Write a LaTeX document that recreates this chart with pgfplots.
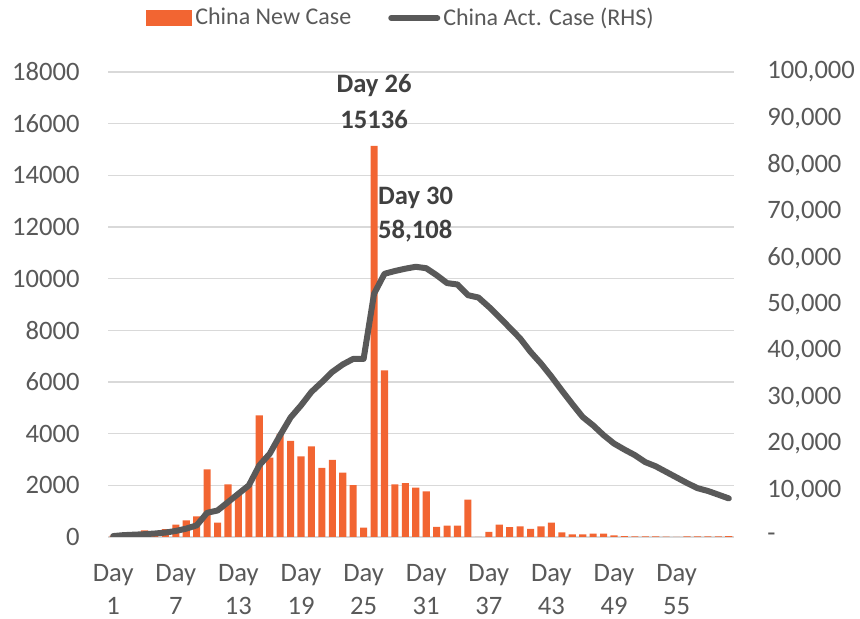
\documentclass[border=0pt]{standalone}
\usepackage{fontspec}
\setmainfont{Carlito}
\usepackage{pgfplots}
\pgfplotsset{compat=1.18}
\usepackage{pgfplotstable}

\definecolor{barc}{HTML}{F26532}
\definecolor{linec}{HTML}{595959}
\definecolor{txt}{HTML}{595959}
\definecolor{annc}{HTML}{404040}
\definecolor{gridc}{HTML}{D9D9D9}

% day, new cases
\pgfplotstableread{
day new
1 50
2 80
3 150
4 260
5 200
6 300
7 477
8 645
9 800
10 2620
11 560
12 2040
13 1650
14 2000
15 4710
16 3070
17 3990
18 3720
19 3120
20 3510
21 2680
22 2990
23 2490
24 2010
25 360
26 15136
27 6450
28 2040
29 2090
30 1910
31 1770
32 390
33 440
34 440
35 1445
36 0
37 194
38 477
39 387
40 413
41 310
42 413
43 555
44 180
45 100
46 103
47 129
48 129
49 64
50 30
51 20
52 20
53 20
54 10
55 8
56 20
57 20
58 20
59 20
60 30
}\newcases

% day, active cases
\pgfplotstableread{
day act
1 200
2 400
3 500
4 600
5 750
6 950
7 1300
8 1800
9 2500
10 5200
11 5700
12 7500
13 9300
14 11100
15 15400
16 17900
17 21900
18 25700
19 28300
20 31200
21 33300
22 35500
23 37100
24 38300
25 38300
26 52300
27 56600
28 57200
29 57700
30 58108
31 57800
32 56300
33 54600
34 54300
35 52000
36 51500
37 49500
38 47300
39 45000
40 42700
41 39800
42 37300
43 34500
44 31500
45 28600
46 25800
47 24000
48 21900
49 20100
50 18800
51 17600
52 16100
53 15200
54 14000
55 12800
56 11600
57 10500
58 9900
59 9100
60 8300
}\actcases

\pgfplotsset{
  base/.style={
    scale only axis,
    width=313pt, height=232.5pt,
    xmin=0.5, xmax=60.5,
    axis line style={draw=none},
    tick style={draw=none},
    scaled y ticks=false,
    ticklabel style={font=\fontsize{13.3}{16.5}\selectfont, text=txt},
    /pgf/number format/assume math mode=true,
  }
}

\begin{document}
\begin{tikzpicture}
\begin{axis}[
    base,
    name=ax,
    ymin=0, ymax=18000,
    ytick={0,2000,...,18000},
    yticklabel style={/pgf/number format/1000 sep={}, inner sep=0pt, xshift=-14pt},
    ymajorgrids=true,
    grid style={gridc, line width=0.75pt},
    xtick={1,7,...,55},
    xticklabels={Day\\1,Day\\7,Day\\13,Day\\19,Day\\25,Day\\31,Day\\37,Day\\43,Day\\49,Day\\55},
    xticklabel style={align=center, inner sep=0pt, yshift=-13.5pt},
]
\addplot[ybar, bar width=0.68, fill=barc, draw=none] table[x=day, y=new] {\newcases};

\node[font=\fontsize{13.3}{18}\selectfont\bfseries, text=annc, align=center]
  at (axis cs:26,16840) {Day 26\\15136};
\node[font=\fontsize{13.3}{17}\selectfont\bfseries, text=annc, align=left,
  anchor=west, inner sep=0pt]
  at (axis cs:26.35,12466) {Day 30\\58,108};
\end{axis}

\begin{axis}[
    base,
    axis y line*=right,
    hide x axis,
    ymin=0, ymax=100000,
    ytick={0,10000,...,100000},
    yticklabels={-,{10,000},{20,000},{30,000},{40,000},{50,000},{60,000},{70,000},{80,000},{90,000},{100,000}},
    yticklabel style={inner sep=0pt, xshift=16.5pt, anchor=west},
    legend style={
      draw=none, fill=none,
      at={(0.469,1.116)}, anchor=center,
      legend columns=2,
      font=\fontsize{12}{14}\selectfont, text=txt,
      /tikz/every even column/.append style={column sep=17pt},
      nodes={inner sep=1.5pt},
    },
]
\addlegendimage{legend image code/.code={\fill[barc] (0pt,-3.75pt) rectangle (22.5pt,3.75pt);}}
\addlegendentry{China New Case}
\addplot[color=linec, line width=3pt, line join=round, line cap=round,
  legend image code/.code={\draw[linec, line width=3pt, line cap=round] (0pt,0pt) -- (23pt,0pt);}]
  table[x=day, y=act] {\actcases};
\addlegendentry{China Act. Case (RHS)}
\end{axis}

\pgfresetboundingbox
\path (ax.south west) ++(-54pt,-41pt) rectangle ++(430pt,309.5pt);
\end{tikzpicture}
\end{document}
